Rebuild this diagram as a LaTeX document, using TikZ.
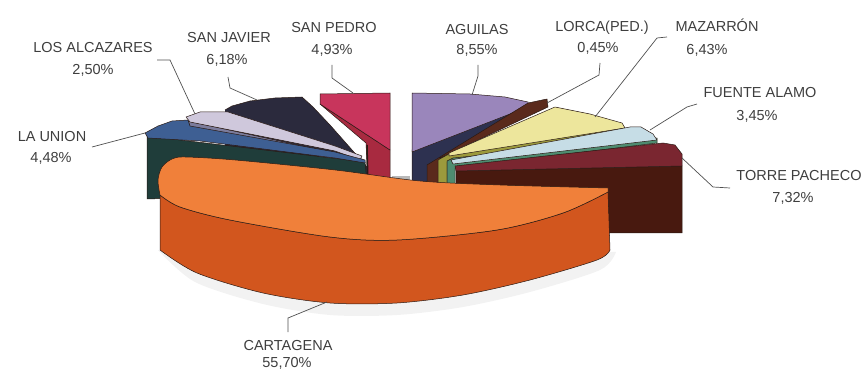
\documentclass[tikz,border=0pt]{standalone}
\usepackage{fontspec}
\setmainfont{Liberation Sans}
\definecolor{txt}{HTML}{3E3E3E}
\definecolor{leadc}{HTML}{505050}
\definecolor{edgec}{HTML}{2A1A14}
\definecolor{otop}{HTML}{F0803A}
\definecolor{oside}{HTML}{D2561E}
\definecolor{uniontop}{HTML}{3E5F93}
\definecolor{unionfront}{HTML}{1F3D3A}
\definecolor{alctop}{HTML}{CFC8DC}
\definecolor{alcside}{HTML}{7C7C9C}
\definecolor{javier}{HTML}{2B2A3D}
\definecolor{pedrotop}{HTML}{C8355C}
\definecolor{pedroside}{HTML}{A82A40}
\definecolor{aguilastop}{HTML}{9A86BB}
\definecolor{aguilasside}{HTML}{2D3150}
\definecolor{lorca}{HTML}{5A2A1C}
\definecolor{maztop}{HTML}{EDE69C}
\definecolor{mazside}{HTML}{9C9A3C}
\definecolor{fuentetop}{HTML}{C6DDE6}
\definecolor{fuenteside}{HTML}{4E8C70}
\definecolor{torretop}{HTML}{7A2630}
\definecolor{torrefront}{HTML}{48190F}
\tikzset{
  lbl/.style={font=\fontsize{14.5}{17}\selectfont, text=txt, inner sep=0pt, anchor=base},
  leader/.style={draw=leadc, line width=0.7pt},
  facet/.style={draw=edgec, line width=0.5pt, line join=round}
}
\begin{document}
\begin{tikzpicture}[x=1pt,y=-1pt]
\path[use as bounding box] (0,0) rectangle (867,371);

% ---------- left group ----------
\fill[javier] (225,110) -- (232,106) -- (250,101) -- (275,98) -- (302,97) -- (313,107) -- (330,125) -- (368,168) -- (368,192) -- (225,192) -- cycle;
\draw[facet] (225,110) -- (232,106) -- (250,101) -- (275,98) -- (302,97) -- (313,107) -- (330,125) -- (368,168);
\filldraw[facet, fill=pedroside] (320,104) -- (390,150) -- (390,186) -- (368,186) -- (366,143) -- cycle;
\filldraw[facet, fill=pedrotop] (320,94) -- (390,93) -- (390,150) -- (320,104) -- cycle;
\draw[edgec, line width=1.5pt] (367,145) -- (368,186);
\filldraw[facet, fill=alcside] (188,121) -- (362,159) -- (364,167) -- (190,127) -- cycle;
\filldraw[facet, fill=alctop] (186,117) -- (200,112) -- (228,112) -- (335,146) -- (362,156) -- (360,160) -- (335,151) -- (190,122) -- cycle;
\filldraw[facet, fill=unionfront] (147,136) -- (365,162) -- (368,192) -- (147,199) -- cycle;
\filldraw[facet, fill=uniontop] (145,133) -- (158,126) -- (172,121) -- (188,120) -- (190,126) -- (335,152) -- (365,160) -- (365,163) -- (335,158) -- (200,141) -- (148,138) -- cycle;
\fill[black!55, opacity=0.5] (392,176) -- (410,176) -- (410,186) -- (392,186) -- cycle;

% ---------- right group ----------
\filldraw[facet, fill=aguilasside] (412,150) -- (528,105) -- (530,110) -- (428,165) -- (428,186) -- (412,186) -- cycle;
\filldraw[facet, fill=aguilastop] (412,93) -- (470,94) -- (505,97) -- (528,102) -- (528,107) -- (412,152) -- cycle;
\filldraw[facet, fill=lorca] (528,103) -- (547,99) -- (548,107) -- (440,158) -- (440,186) -- (427,186) -- (427,165) -- cycle;
\filldraw[facet, fill=mazside] (438,160) -- (447,155) -- (624,127) -- (624,132) -- (447,162) -- (447,186) -- (438,186) -- cycle;
\filldraw[facet, fill=maztop] (449,153) -- (555,107) -- (590,114) -- (622,123) -- (625,128) -- (449,156) -- cycle;
\filldraw[facet, fill=fuenteside] (447,161) -- (453,158) -- (657,138) -- (657,143) -- (455,168) -- (455,186) -- (447,186) -- cycle;
\filldraw[facet, fill=fuentetop] (451,160) -- (630,127) -- (641,127) -- (653,134) -- (657,140) -- (453,164) -- cycle;
\filldraw[facet, fill=torrefront] (456,171) -- (682,166) -- (682,233) -- (456,233) -- cycle;
\filldraw[facet, fill=torretop] (455,166) -- (663,143) -- (675,145) -- (682,154) -- (682,166) -- (456,171) -- cycle;

% ---------- Cartagena ----------
\fill[black, opacity=0.05] plot[smooth] coordinates {(158,250) (195,282) (263,304) (330,315) (397,315) (463,307) (530,292) (600,270) (616,252)} -- cycle;
\filldraw[facet, fill=oside] (160,195) -- plot[smooth] coordinates {(160,250) (197,273) (263,293) (330,303) (397,303) (463,295) (530,280) (597,260) (610,250)} -- (608,192) -- plot[smooth] coordinates {(608,192) (563,213) (497,230) (397,240) (330,237) (230,220) (180,207) (160,195)} -- cycle;
\filldraw[facet, fill=otop] plot[smooth] coordinates {(160,195) (158,180) (162,167) (172,159) (185,157) (235,160) (335,170) (420,181) (500,185) (608,188)} -- (608,192) -- plot[smooth] coordinates {(608,192) (563,213) (497,230) (397,240) (330,237) (230,220) (180,207) (160,195)} -- cycle;

% ---------- labels ----------
\node[lbl] (unionN) at (52,142) {LA UNION};
\node[lbl] (unionP) at (51,163) {4,48\%};
\node[lbl] (alcN) at (93,53) {LOS ALCAZARES};
\node[lbl] (alcP) at (93,75) {2,50\%};
\node[lbl] (javN) at (229,43) {SAN JAVIER};
\node[lbl] (javP) at (227,65) {6,18\%};
\node[lbl] (pedN) at (334,33) {SAN PEDRO};
\node[lbl] (pedP) at (332,55) {4,93\%};
\node[lbl] (agN) at (477,35) {AGUILAS};
\node[lbl] (agP) at (477,55) {8,55\%};
\node[lbl] (lorN) at (602,32) {LORCA(PED.)};
\node[lbl] (lorP) at (598,53) {0,45\%};
\node[lbl] (mazN) at (717,32) {MAZARRÓN};
\node[lbl] (mazP) at (707,55) {6,43\%};
\node[lbl] (fueN) at (760,98) {FUENTE ALAMO};
\node[lbl] (fueP) at (757,121) {3,45\%};
\node[lbl] (torN) at (799,181) {TORRE PACHECO};
\node[lbl] (torP) at (793,203) {7,32\%};
\node[lbl] (carN) at (288,350) {CARTAGENA};
\node[lbl] (carP) at (287,367.5) {55,70\%};

% ---------- leader lines ----------
\coordinate (uA) at (92,147);  \coordinate (uB) at (145,133);
\coordinate (aA) at (157,60);  \coordinate (aB) at (170,60);  \coordinate (aC) at (195,114);
\coordinate (jA) at (228,77);  \coordinate (jB) at (230,88);  \coordinate (jC) at (257,100);
\coordinate (pA) at (332,65);  \coordinate (pB) at (332,78);  \coordinate (pC) at (353,93);
\coordinate (gA) at (478,65);  \coordinate (gB) at (478,76);  \coordinate (gC) at (472,95);
\coordinate (lA) at (600,63);  \coordinate (lB) at (599,75);  \coordinate (lC) at (547,103);
\coordinate (mA) at (667,37);  \coordinate (mB) at (657,38);  \coordinate (mC) at (595,117);
\coordinate (fA) at (697,104); \coordinate (fB) at (687,107); \coordinate (fC) at (650,130);
\coordinate (tA) at (682,158); \coordinate (tB) at (713,187); \coordinate (tC) at (730,188);
\coordinate (cA) at (327,302); \coordinate (cB) at (288,318); \coordinate (cC) at (288,332);
\draw[leader] (uA) -- (uB);
\draw[leader] (aA) -- (aB) -- (aC);
\draw[leader] (jA) -- (jB) -- (jC);
\draw[leader] (pA) -- (pB) -- (pC);
\draw[leader] (gA) -- (gB) -- (gC);
\draw[leader] (lA) -- (lB) -- (lC);
\draw[leader] (mA) -- (mB) -- (mC);
\draw[leader] (fA) -- (fB) -- (fC);
\draw[leader] (tA) -- (tB) -- (tC);
\draw[leader] (cA) -- (cB) -- (cC);
\end{tikzpicture}
\end{document}
